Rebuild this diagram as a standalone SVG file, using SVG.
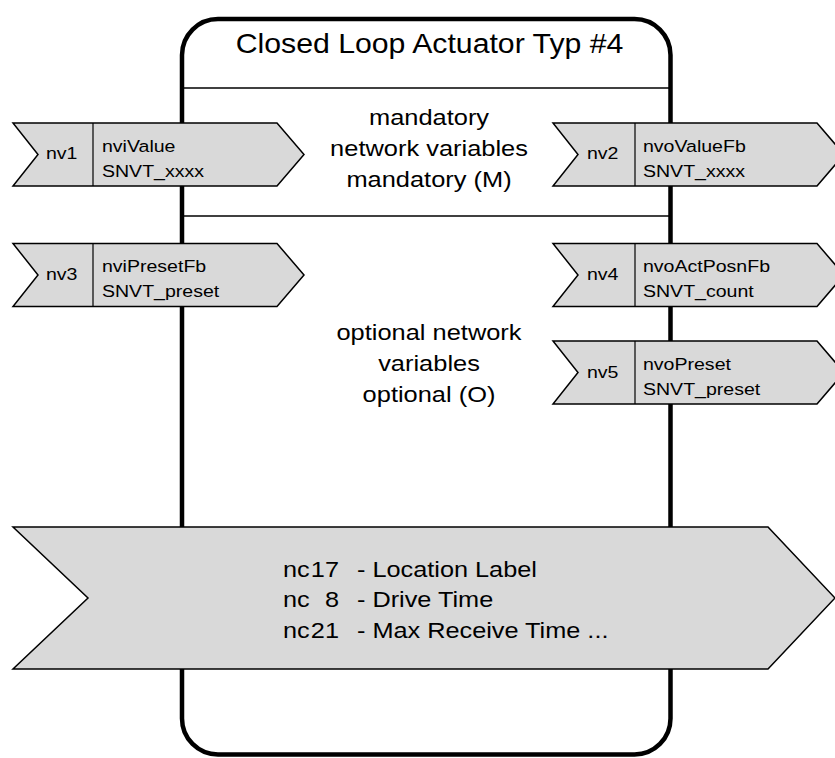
<svg xmlns="http://www.w3.org/2000/svg" width="835" height="758" viewBox="0 0 835 758">
<style>
.t{font-family:"Liberation Sans",Arial,sans-serif;fill:#000}
.box{fill:#fff;stroke:#000;stroke-width:4.5}
.sep{stroke:#000;stroke-width:1.5}
.arr{fill:#d9d9d9;stroke:#000;stroke-width:1.5;stroke-linejoin:miter}
.div{stroke:#000;stroke-width:1.2}
.nv{font-size:17px}
.mid{font-size:22.5px;text-anchor:middle}
.nc{font-size:22px}
</style>
<rect width="835" height="758" fill="#fff"/>
<g id="block">
<rect class="box" x="182" y="19" width="488.5" height="735.5" rx="36" ry="36"/>
<line class="sep" x1="182" y1="88" x2="670.5" y2="88"/>
<line class="sep" x1="182" y1="216" x2="670.5" y2="216"/>
<text class="t" font-size="27.5" text-anchor="middle" transform="translate(429.5,53) scale(1.1,1)">Closed Loop Actuator Typ #4</text>
</g>
<g id="mandatory-label">
<text class="t mid" transform="translate(429,125) scale(1.13,1)">mandatory</text>
<text class="t mid" transform="translate(429,156) scale(1.13,1)">network variables</text>
<text class="t mid" transform="translate(429,187) scale(1.13,1)">mandatory (M)</text>
</g>
<g id="optional-label">
<text class="t mid" transform="translate(429,340) scale(1.13,1)">optional network</text>
<text class="t mid" transform="translate(429,371) scale(1.13,1)">variables</text>
<text class="t mid" transform="translate(429,402) scale(1.13,1)">optional (O)</text>
</g>
<g id="nv1">
<polygon class="arr" points="13,123 277,123 304,154.5 277,186 13,186 38,154.5"/>
<line class="div" x1="93" y1="123" x2="93" y2="186"/>
<text class="t nv" transform="translate(46,159) scale(1.15,1)">nv1</text>
<text class="t nv" transform="translate(102,152) scale(1.15,1)">nviValue</text>
<text class="t nv" transform="translate(102,177) scale(1.15,1)">SNVT_xxxx</text>
</g>
<g id="nv2">
<polygon class="arr" points="553,123 817,123 844,154.5 817,186 553,186 578,154.5"/>
<line class="div" x1="635" y1="123" x2="635" y2="186"/>
<text class="t nv" transform="translate(587,159) scale(1.15,1)">nv2</text>
<text class="t nv" transform="translate(643,152) scale(1.15,1)">nvoValueFb</text>
<text class="t nv" transform="translate(643,177) scale(1.15,1)">SNVT_xxxx</text>
</g>
<g id="nv3">
<polygon class="arr" points="13,243.5 277,243.5 304,275 277,306.5 13,306.5 38,275"/>
<line class="div" x1="93" y1="243.5" x2="93" y2="306.5"/>
<text class="t nv" transform="translate(46,279.5) scale(1.15,1)">nv3</text>
<text class="t nv" transform="translate(102,272) scale(1.15,1)">nviPresetFb</text>
<text class="t nv" transform="translate(102,297) scale(1.15,1)">SNVT_preset</text>
</g>
<g id="nv4">
<polygon class="arr" points="553,243.5 817,243.5 844,275 817,306.5 553,306.5 578,275"/>
<line class="div" x1="635" y1="243.5" x2="635" y2="306.5"/>
<text class="t nv" transform="translate(587,279.5) scale(1.15,1)">nv4</text>
<text class="t nv" transform="translate(643,272) scale(1.15,1)">nvoActPosnFb</text>
<text class="t nv" transform="translate(643,297) scale(1.15,1)">SNVT_count</text>
</g>
<g id="nv5">
<polygon class="arr" points="553,341 817,341 844,372.5 817,404 553,404 578,372.5"/>
<line class="div" x1="635" y1="341" x2="635" y2="404"/>
<text class="t nv" transform="translate(587,377.5) scale(1.15,1)">nv5</text>
<text class="t nv" transform="translate(643,370) scale(1.15,1)">nvoPreset</text>
<text class="t nv" transform="translate(643,395) scale(1.15,1)">SNVT_preset</text>
</g>
<g id="config">
<polygon class="arr" points="13,527 768,527 835,598 768,669 13,669 88,598"/>
<text class="t nc" transform="translate(283,577) scale(1.15,1)">nc</text>
<text class="t nc" text-anchor="end" transform="translate(339,577) scale(1.15,1)">17</text>
<text class="t nc" transform="translate(357,577) scale(1.15,1)">- Location Label</text>
<text class="t nc" transform="translate(283,607) scale(1.15,1)">nc</text>
<text class="t nc" text-anchor="end" transform="translate(339,607) scale(1.15,1)">8</text>
<text class="t nc" transform="translate(357,607) scale(1.15,1)">- Drive Time</text>
<text class="t nc" transform="translate(283,638) scale(1.15,1)">nc</text>
<text class="t nc" text-anchor="end" transform="translate(339,638) scale(1.15,1)">21</text>
<text class="t nc" transform="translate(357,638) scale(1.15,1)">- Max Receive Time ...</text>
</g>
</svg>
